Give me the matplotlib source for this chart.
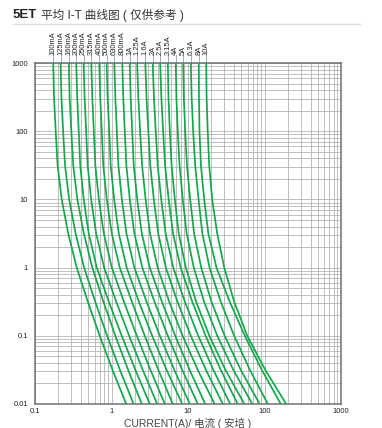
import matplotlib
matplotlib.use("Agg")
import matplotlib.pyplot as plt
from matplotlib.ticker import LogLocator, NullFormatter

plt.rcParams['font.family'] = ['Liberation Sans', 'Noto Sans CJK SC', 'DejaVu Sans']

# fuse ratings (A) and their labels
ratings = [0.1, 0.125, 0.16, 0.2, 0.25, 0.315, 0.4, 0.5, 0.63, 0.8,
           1, 1.25, 1.6, 2, 2.5, 3.15, 4, 5, 6.3, 8, 10]
labels = ["100mA", "125mA", "160mA", "200mA", "250mA", "315mA", "400mA",
          "500mA", "630mA", "800mA", "1A", "1.25A", "1.6A", "2A", "2.5A",
          "3.15A", "4A", "5A", "6.3A", "8A", "10A"]

# melting time (s) levels the curves were read at
times = [1000, 316, 100, 31.6, 10, 3.16, 1, 0.316, 0.1, 0.0316, 0.01]

# current as multiple of rating at each time level, one row per fuse
mult = [
    [1.73, 1.772, 1.865, 1.975, 2.234, 2.717, 3.51, 4.903, 7.014, 10.31, 15.57],   # 100mA
    [1.73, 1.772, 1.865, 1.975, 2.234, 2.717, 3.51, 4.903, 7.014, 10.31, 15.57],   # 125mA
    [1.73, 1.772, 1.865, 1.975, 2.234, 2.717, 3.51, 4.903, 7.014, 10.31, 15.57],   # 160mA
    [1.73, 1.780, 1.865, 1.951, 2.168, 2.520, 3.207, 4.616, 6.804, 10.25, 15.81],  # 200mA
    [1.73, 1.780, 1.865, 1.951, 2.168, 2.520, 3.207, 4.616, 6.804, 10.25, 15.81],  # 250mA
    [1.73, 1.780, 1.865, 1.951, 2.168, 2.520, 3.207, 4.616, 6.804, 10.25, 15.81],  # 315mA
    [1.73, 1.780, 1.865, 1.951, 2.168, 2.520, 3.207, 4.616, 6.804, 10.25, 15.81],  # 400mA
    [1.73, 1.780, 1.865, 1.953, 2.168, 2.490, 3.159, 4.560, 6.804, 10.50, 16.79],  # 500mA
    [1.73, 1.780, 1.865, 1.953, 2.168, 2.490, 3.159, 4.560, 6.804, 10.50, 16.79],  # 630mA
    [1.73, 1.780, 1.865, 1.953, 2.168, 2.490, 3.159, 4.560, 6.804, 10.50, 16.79],  # 800mA
    [1.73, 1.780, 1.865, 1.953, 2.168, 2.490, 3.159, 4.560, 6.804, 10.50, 16.79],  # 1A
    [1.73, 1.793, 1.893, 2.007, 2.234, 2.551, 3.207, 4.547, 6.804, 10.72, 17.83],  # 1.25A
    [1.73, 1.793, 1.893, 2.007, 2.234, 2.551, 3.207, 4.547, 6.804, 10.72, 17.83],  # 1.6A
    [1.73, 1.793, 1.893, 2.007, 2.234, 2.551, 3.207, 4.547, 6.804, 10.72, 17.83],  # 2A
    [1.73, 1.793, 1.893, 2.007, 2.234, 2.551, 3.207, 4.547, 6.804, 10.72, 17.83],  # 2.5A
    [1.73, 1.763, 1.837, 1.937, 2.136, 2.402, 2.975, 4.055, 6.033, 9.794, 17.30],  # 3.15A
    [1.73, 1.763, 1.837, 1.937, 2.136, 2.402, 2.975, 4.055, 6.033, 9.794, 17.30],  # 4A
    [1.73, 1.763, 1.837, 1.937, 2.136, 2.402, 2.975, 4.055, 6.033, 9.794, 17.30],  # 5A
    [1.73, 1.770, 1.854, 1.969, 2.181, 2.446, 3.037, 4.255, 6.369, 10.22, 17.56],  # 6.3A
    [1.73, 1.740, 1.767, 1.843, 2.035, 2.306, 2.947, 4.385, 6.908, 11.52, 20.41],  # 8A
    [1.73, 1.751, 1.810, 1.893, 2.072, 2.409, 2.975, 4.018, 5.943, 10.22, 19.22],  # 10A
]

xticks = [0.1, 1, 10, 100, 1000]
xticklabels = ["0.1", "1", "10", "100", "1000"]
yticks = [0.01, 0.1, 1, 10, 100, 1000]
yticklabels = ["0.01", "0.1", "1", "10", "100", "1000"]

fig = plt.figure(figsize=(3.82, 4.28), dpi=100)
ax = fig.add_axes([35/382, 24/428, 306/382, 341/428])

green = '#12a84a'
for r, m in zip(ratings, mult):
    cur = [r*v for v in m]
    ax.plot(cur, times, color=green, lw=1.25, solid_capstyle='butt', zorder=3)

ax.set_xscale('log')
ax.set_yscale('log')
ax.set_xlim(0.1, 1000)
ax.set_ylim(0.01, 1000)

ax.xaxis.set_minor_locator(LogLocator(base=10, subs=range(2, 10)))
ax.yaxis.set_minor_locator(LogLocator(base=10, subs=range(2, 10)))
ax.xaxis.set_minor_formatter(NullFormatter())
ax.yaxis.set_minor_formatter(NullFormatter())
ax.set_xticks(xticks)
ax.set_xticklabels(xticklabels)
ax.set_yticks(yticks)
ax.set_yticklabels(yticklabels)
ax.tick_params(which='both', length=0, labelsize=5.5, colors='#222')
ax.tick_params(axis='x', pad=3)
ax.tick_params(axis='y', pad=5)
ax.grid(which='both', color='#b4b4b4', lw=0.6)
ax.set_axisbelow(True)
for s in ax.spines.values():
    s.set_color('#707070')
    s.set_linewidth(1.1)

# rating labels above the chart with leader lines
trans = ax.get_xaxis_transform()
for r, m, lab in zip(ratings, mult, labels):
    xtop = r*m[0]
    ax.plot([xtop, xtop], [1.0, 1.022], transform=trans, color='#999999',
            lw=0.6, clip_on=False)
    ax.text(xtop, 1.024, lab, transform=trans, rotation=90, ha='center',
            va='bottom', fontsize=5.4, color='#222')

ax.set_xlabel("CURRENT(A)/ 电流 ( 安培 )", fontsize=7.5, color='#444', labelpad=2)

fig.text(13/382, 1 - 15/428, "5ET", fontsize=9.5, fontweight='bold',
         va='center', ha='left', color='#222')
fig.text(41/382, 1 - 15/428, "平均 I-T 曲线图 ( 仅供参考 )", fontsize=8.4,
         va='center', ha='left', color='#333')
fig.add_artist(plt.Line2D([13/382, 360/382], [1 - 24/428, 1 - 24/428],
                          color='#dddddd', lw=1))

fig.savefig("out.png", dpi=100)
